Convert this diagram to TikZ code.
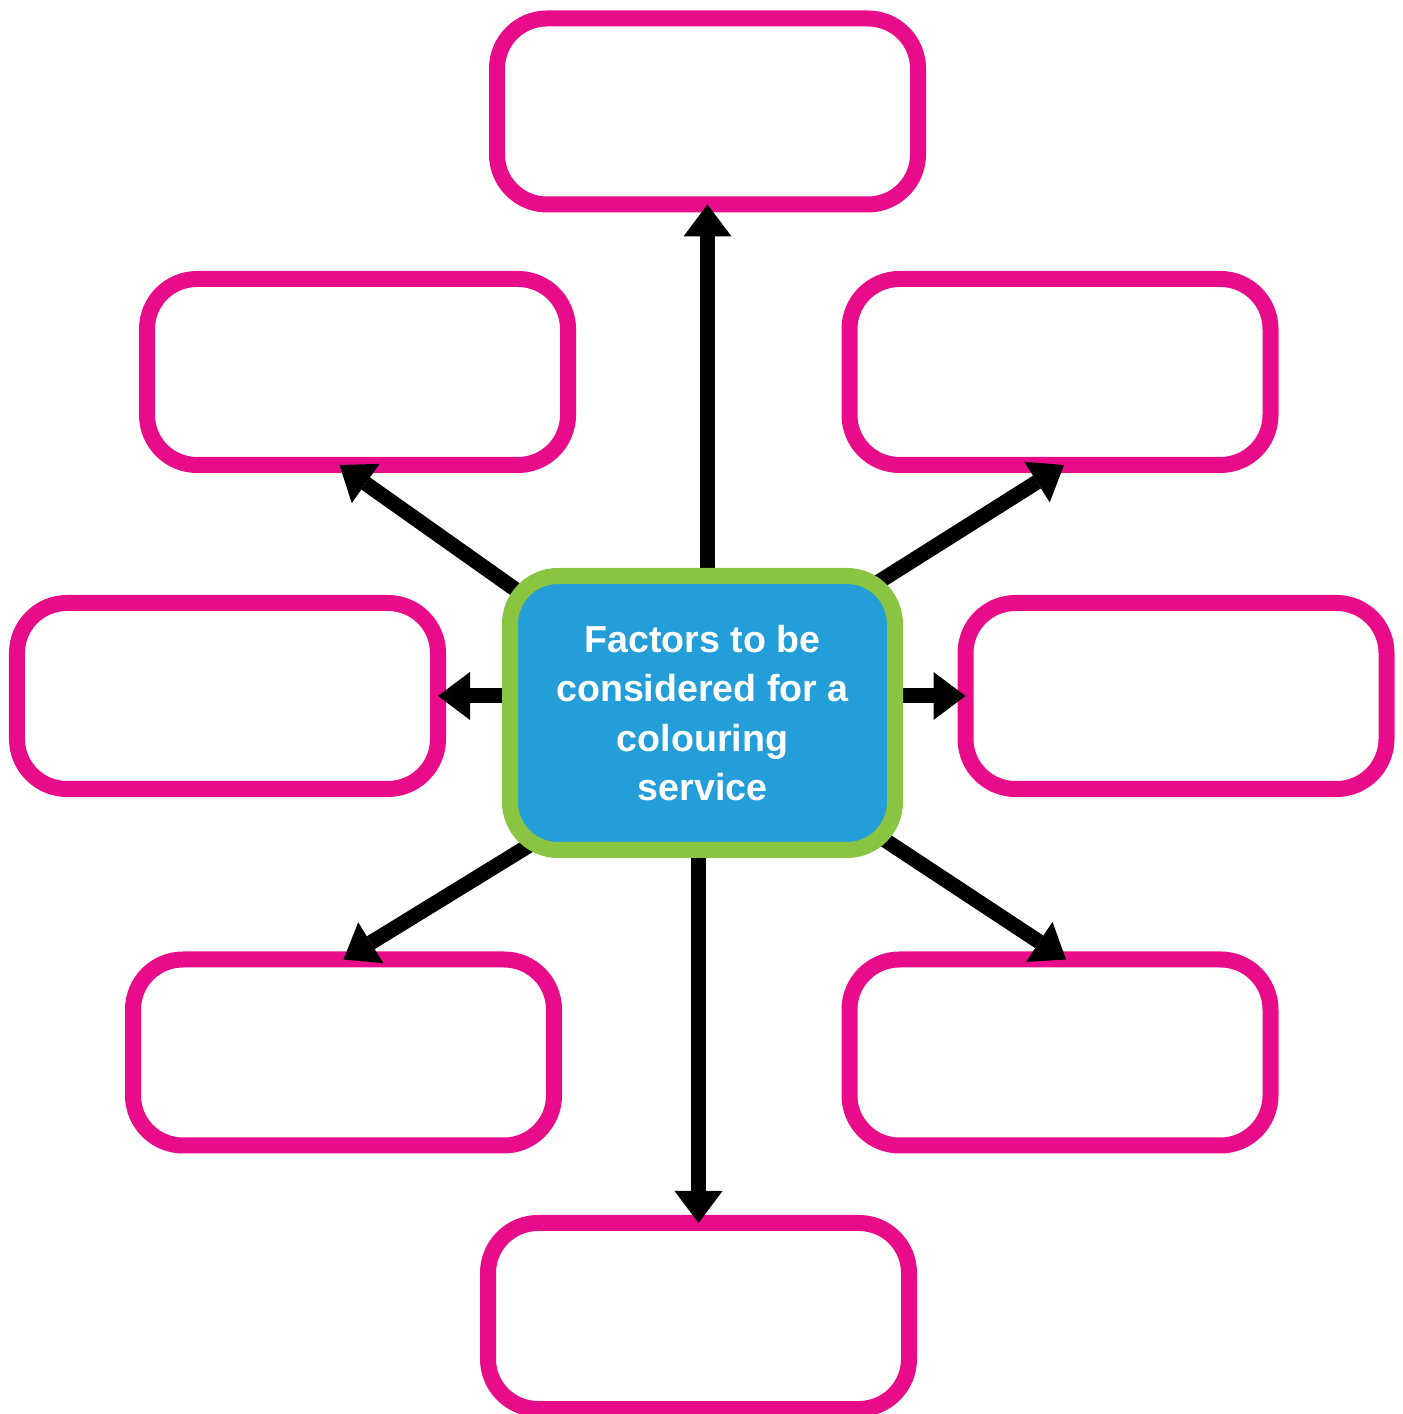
\documentclass[tikz,border=0pt]{standalone}
\usepackage{fontspec}
\setmainfont{Liberation Sans}
\usetikzlibrary{arrows.meta,calc,backgrounds}
\definecolor{boxpink}{RGB}{232,12,139}
\definecolor{hubgreen}{RGB}{138,197,65}
\definecolor{hubblue}{RGB}{35,158,217}
\tikzset{
  blankbox/.style={draw=boxpink,line width=0.16cm,rounded corners=0.5cm,
    minimum width=4.21cm,minimum height=1.86cm,outer sep=0pt},
  hub/.style={draw=hubgreen,fill=hubblue,line width=0.16cm,rounded corners=0.48cm,
    minimum width=3.85cm,minimum height=2.74cm,outer sep=0pt,text=white,
    align=center,font=\bfseries\fontsize{10.7}{14}\selectfont},
  arr/.style={line width=0.15cm,-{Triangle[width=0.48cm,length=0.32cm,line width=0pt]}}
}
\begin{document}
\begin{tikzpicture}
  \useasboundingbox (0,0) rectangle (14.03,14.14);
  \node[hub] (hub) at (7.025,7.01) {Factors to be\\considered for a\\colouring\\service};

  % boxes and arrows go under the hub
  \begin{scope}[on background layer]
    \foreach \n/\x/\y in {bxtop/7.075/13.025,bxul/3.575/10.42,bxur/10.6/10.42,
        bxl/2.275/7.18,bxr/11.76/7.18,bxll/3.435/3.615,bxlr/10.6/3.615,bxbot/6.985/0.98}
      \node[blankbox] (\n) at (\x,\y) {};

    \draw[arr] (bxtop.south |- hub.north) -- (bxtop.south);
    \draw[arr] (bxbot.north |- hub.south) -- (bxbot.north);
    \draw[arr] (hub.west |- bxl.east) -- (bxl.east);
    \draw[arr] (hub.east |- bxr.west) -- (bxr.west);
    \draw[arr] ($(hub)+(-1.425,0.92)$) -- ($(bxul.south)+(-0.18,0)$);
    \draw[arr] ($(hub)+(1.475,1.13)$) -- ($(bxur.south)+(0.04,0)$);
    \draw[arr] ($(hub)+(-1.425,-1.135)$) -- (bxll.north);
    \draw[arr] ($(hub)+(1.475,-1.04)$) -- ($(bxlr.north)+(0.06,0)$);
  \end{scope}
\end{tikzpicture}
\end{document}
